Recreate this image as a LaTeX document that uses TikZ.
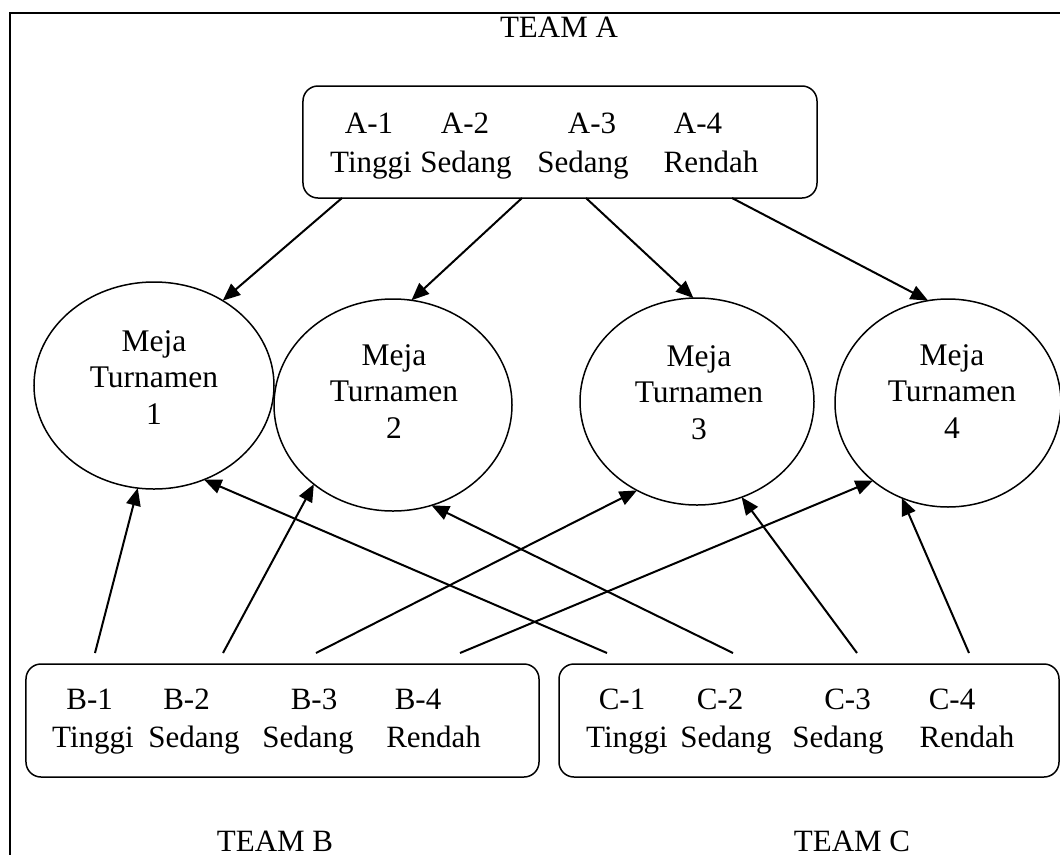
\documentclass[tikz,border=0pt]{standalone}
\usepackage{fontspec}
\setmainfont{Liberation Serif}
\usetikzlibrary{arrows.meta,shapes.geometric}
\tikzset{meja/.style={draw, ellipse, line width=0.6pt, inner sep=0mm, outer sep=0mm},
  tim/.style={draw, rectangle, rounded corners=6pt, line width=0.6pt, inner sep=0mm, outer sep=0mm},
  word/.style={anchor=base, inner sep=0mm, font=\fontsize{12.4}{15}\selectfont},
  txt/.style={align=center, inner sep=0mm, font=\fontsize{12.6}{14.6}\selectfont},
  arr/.style={-{Triangle[length=7pt,width=5.8pt]}, line width=0.8pt}}

\begin{document}
\begin{tikzpicture}[x=0.4pt, y=-0.4pt]
    \useasboundingbox (0,0) rectangle (1060,854);
    \draw[line width=0.8pt] (10,13) rectangle (1090,890);

    % team boxes
    \node (boxA) [tim, minimum width=205.6pt, minimum height=44.8pt] at (560,142) {};
    \node (boxB) [tim, minimum width=205.2pt, minimum height=45.2pt] at (282.5,720.5) {};
    \node (boxC) [tim, minimum width=200pt, minimum height=45.2pt] at (809,720.5) {};

    \node (teamA) [word] at (559,37) {TEAM A};
    \node (teamB) [word] at (275,851) {TEAM B};
    \node (teamC) [word] at (852,851) {TEAM C};

    \node (a1) [word] at (369,133.7) {A-1};
    \node (a2) [word] at (465,133.7) {A-2};
    \node (a3) [word] at (592,133.7) {A-3};
    \node (a4) [word] at (698,133.7) {A-4};
    \node (a1l) [word] at (371,172.3) {Tinggi};
    \node (a2l) [word] at (466,172.3) {Sedang};
    \node (a3l) [word] at (583,172.3) {Sedang};
    \node (a4l) [word] at (711,172.3) {Rendah};

    \node (b1) [word] at (89.6,709) {B-1};
    \node (b2) [word] at (186.5,709) {B-2};
    \node (b3) [word] at (314,709) {B-3};
    \node (b4) [word] at (418,709) {B-4};
    \node (b1l) [word] at (93,747.7) {Tinggi};
    \node (b2l) [word] at (194,747.7) {Sedang};
    \node (b3l) [word] at (308,747.7) {Sedang};
    \node (b4l) [word] at (433.6,747.7) {Rendah};

    \node (c1) [word] at (622,709) {C-1};
    \node (c2) [word] at (720,709) {C-2};
    \node (c3) [word] at (847.5,709) {C-3};
    \node (c4) [word] at (952,709) {C-4};
    \node (c1l) [word] at (627,747.7) {Tinggi};
    \node (c2l) [word] at (726,747.7) {Sedang};
    \node (c3l) [word] at (838,747.7) {Sedang};
    \node (c4l) [word] at (967,747.7) {Rendah};

    % tournament tables
    \node (m1) [meja, minimum width=96pt, minimum height=82.8pt] at (154,385.5) {};
    \node (m2) [meja, minimum width=95.2pt, minimum height=84.8pt] at (393,405) {};
    \node (m3) [meja, minimum width=93.6pt, minimum height=82.8pt] at (697,401.5) {};
    \node (m4) [meja, minimum width=90.4pt, minimum height=83.2pt] at (948,403) {};

    \node (t1) [txt] at (154,377.5) {Meja\\Turnamen\\1};
    \node (t2) [txt] at (394,391.5) {Meja\\Turnamen\\2};
    \node (t3) [txt] at (699,392.5) {Meja\\Turnamen\\3};
    \node (t4) [txt] at (952,391.5) {Meja\\Turnamen\\4};

    \coordinate (a1s) at (342,198);
    \coordinate (a2s) at (522,198);
    \coordinate (a3s) at (586,198);
    \coordinate (a4s) at (732,198);
    \coordinate (b1s) at (95,653);
    \coordinate (b2s) at (223,653);
    \coordinate (b3s) at (316,653);
    \coordinate (b4s) at (460,653);
    \coordinate (c1s) at (607,653);
    \coordinate (c2s) at (733,653);
    \coordinate (c3s) at (857,653);
    \coordinate (c4s) at (969,653);

    \draw (a1s) edge[arr] (m1.51.7);
    \draw (a2s) edge[arr] (m2.80.8);
    \draw (a3s) edge[arr] (m3.92.8);
    \draw (a4s) edge[arr] (m4.101);

    \draw (b1s) edge[arr] (m1.-99.3);
    \draw (b2s) edge[arr] (m2.-135.2);
    \draw (b3s) edge[arr] (m3.-124);
    \draw (b4s) edge[arr] (m4.-134.6);

    \draw (c1s) edge[arr] (m1.-62.6);
    \draw (c2s) edge[arr] (m2.-69.4);
    \draw (c3s) edge[arr] (m3.-65.2);
    \draw (c4s) edge[arr] (m4.-116.3);
\end{tikzpicture}
\end{document}
